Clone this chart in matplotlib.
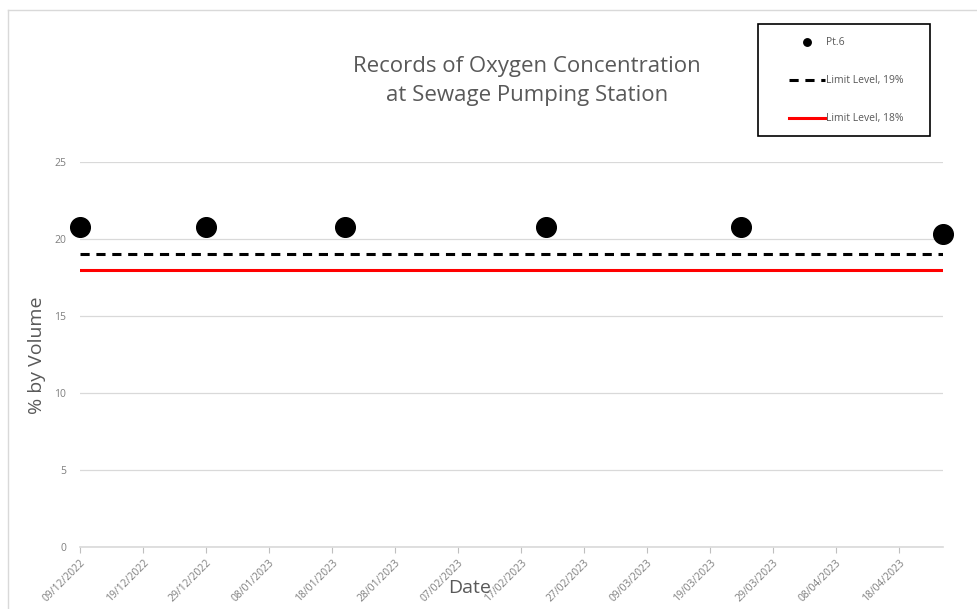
import matplotlib.pyplot as plt
import matplotlib.dates as mdates
import numpy as np
from datetime import datetime, timedelta

plt.rcParams['font.family'] = ['Open Sans', 'DejaVu Sans']

dates = ['09/12/2022', '29/12/2022', '20/01/2023', '21/02/2023', '24/03/2023', '25/04/2023']
pt6 = [20.8, 20.8, 20.8, 20.8, 20.8, 20.3]
limit_19 = [19, 19, 19, 19, 19, 19]
limit_18 = [18, 18, 18, 18, 18, 18]

x = [datetime.strptime(d, '%d/%m/%Y') for d in dates]

fig = plt.figure(figsize=(9.77, 6.09), dpi=100)
ax = fig.add_axes([80/977, 1 - 547/609, (943-80)/977, (547-162)/609])

grey = '#595959'
tick_grey = '#7f7f7f'

ax.plot(x, limit_19, color='black', linestyle=(0, (3, 2.2)), linewidth=2.2, label='Limit Level, 19%', zorder=3)
ax.plot(x, limit_18, color='#ff0000', linewidth=2.2, label='Limit Level, 18%', zorder=3)
ax.scatter(x, pt6, s=200, color='black', label='Pt.6', zorder=4, clip_on=False)

ax.set_xlim(x[0], x[-1])
ax.set_ylim(0, 25)
ax.set_yticks(np.arange(0, 26, 5))

ticks = [x[0] + timedelta(days=10 * i) for i in range(14)]
ax.set_xticks(ticks)
ax.xaxis.set_major_formatter(mdates.DateFormatter('%d/%m/%Y'))
plt.setp(ax.get_xticklabels(), rotation=45, ha='right', rotation_mode='anchor')

ax.tick_params(axis='x', colors='#bfbfbf', labelcolor=tick_grey, labelsize=7.5, length=4, direction='out')
ax.tick_params(axis='y', length=0, labelcolor=tick_grey, labelsize=7.5, pad=10)

ax.grid(axis='y', color='#d9d9d9', linewidth=0.9)
ax.set_axisbelow(True)
for s in ['top', 'right', 'left']:
    ax.spines[s].set_visible(False)
ax.spines['bottom'].set_color('#d9d9d9')
ax.spines['bottom'].set_linewidth(1.2)

fig.text(527/977, 1 - 81/609, 'Records of Oxygen Concentration\nat Sewage Pumping Station',
         ha='center', va='center', fontsize=16, color=grey, linespacing=1.55)
fig.text(37/977, 1 - 355/609, '% by Volume', rotation=90, ha='center', va='center', fontsize=14, color=grey)
fig.text(470/977, 1 - 588/609, 'Date', ha='center', va='center', fontsize=14, color=grey)

# legend box drawn separately so its size matches the original
fig.add_artist(plt.Rectangle((758/977, 1 - 136/609), 172/977, 112/609, transform=fig.transFigure,
                             fill=False, edgecolor='black', linewidth=1.2))
handles, labels = ax.get_legend_handles_labels()
order = [2, 0, 1]
leg = fig.legend([handles[i] for i in order], [labels[i] for i in order],
                 loc='upper left', bbox_to_anchor=(787/977, 1 - 35/609),
                 frameon=False, fontsize=7.5, labelcolor=grey,
                 markerscale=0.38, handlelength=3.4, handletextpad=0.1,
                 labelspacing=2.6, borderpad=0.2, borderaxespad=0)

# light chart border on left and top
fig.add_artist(plt.Line2D([8/977, 8/977], [0, 1 - 10/609], color='#d9d9d9', linewidth=1))
fig.add_artist(plt.Line2D([8/977, 1], [1 - 10/609, 1 - 10/609], color='#d9d9d9', linewidth=1))

plt.savefig('out.png', dpi=100)
